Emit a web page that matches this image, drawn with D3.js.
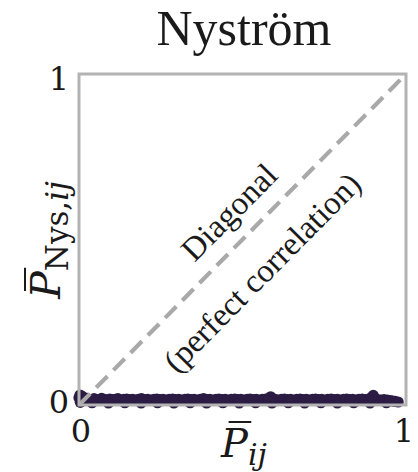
<!DOCTYPE html>
<html><head><meta charset="utf-8">
<script src="https://cdn.jsdelivr.net/npm/d3@7"></script>
<style>
html,body{margin:0;padding:0;background:#fff;}
</style></head>
<body><svg id="c" width="418" height="472"></svg>
<script>
const title = "Nyström";
const xTicks = [0, 1];
const yTicks = [0, 1];
const diagonal = [[0, 0], [1, 1]];
const pointX = [0.000,0.003,0.006,0.010,0.014,0.019,0.025,0.031,0.038,0.046,0.053,0.061,0.069,0.077,0.085,0.094,0.102,0.111,0.119,0.128,0.137,0.146,0.155,0.164,0.173,0.182,0.191,0.201,0.210,0.219,0.229,0.238,0.248,0.257,0.267,0.276,0.286,0.295,0.305,0.314,0.324,0.333,0.343,0.352,0.362,0.371,0.381,0.390,0.400,0.409,0.419,0.428,0.438,0.447,0.457,0.466,0.476,0.485,0.495,0.504,0.514,0.523,0.533,0.542,0.552,0.561,0.571,0.580,0.586,0.590,0.600,0.609,0.619,0.628,0.638,0.647,0.657,0.666,0.676,0.685,0.695,0.704,0.714,0.723,0.733,0.742,0.752,0.761,0.771,0.780,0.790,0.799,0.809,0.818,0.828,0.837,0.847,0.856,0.866,0.875,0.885,0.894,0.900,0.905,0.914,0.924,0.933,0.943,0.952,0.960,0.967,0.976];
const pointY = [0.022,0.030,0.014,0.026,0.018,0.015,0.020,0.017,0.015,0.019,0.016,0.015,0.020,0.017,0.015,0.018,0.016,0.017,0.019,0.015,0.017,0.018,0.016,0.017,0.015,0.017,0.019,0.016,0.017,0.015,0.017,0.018,0.016,0.017,0.015,0.017,0.018,0.016,0.017,0.015,0.017,0.018,0.016,0.017,0.015,0.017,0.019,0.016,0.017,0.015,0.017,0.018,0.016,0.017,0.015,0.017,0.018,0.016,0.017,0.015,0.017,0.018,0.016,0.017,0.015,0.017,0.018,0.017,0.025,0.016,0.017,0.015,0.017,0.018,0.016,0.017,0.015,0.017,0.018,0.016,0.017,0.015,0.017,0.018,0.016,0.017,0.015,0.017,0.018,0.016,0.017,0.015,0.017,0.018,0.016,0.017,0.015,0.017,0.018,0.016,0.017,0.023,0.029,0.016,0.016,0.015,0.016,0.015,0.013,0.012,0.011,0.009];
const pointX2 = [0.004,0.040,0.090,0.140,0.190,0.240,0.290,0.340,0.390,0.440,0.490,0.540,0.590,0.640,0.690,0.740,0.790,0.840,0.890,0.940];
const pointY2 = [0.008,0.007,0.006,0.007,0.006,0.007,0.006,0.007,0.006,0.007,0.006,0.007,0.006,0.007,0.006,0.007,0.006,0.007,0.006,0.007];

const SERIF = "'Liberation Serif', 'Times New Roman', serif";
const MATH = "'DejaVu Serif', serif";
const svg = d3.select("#c");
const L = 79, R = 406, T = 74, B = 405;
const x = d3.scaleLinear().domain([0, 1]).range([L, R]);
const y = d3.scaleLinear().domain([0, 1]).range([B, T]);
const ptColor = "#2c1c44";
const ink = "#1a1a1a";

const pts = pointX.map((v, i) => [v, pointY[i]]).concat(pointX2.map((v, i) => [v, pointY2[i]]));
svg.append("g").selectAll("circle").data(pts).join("circle")
  .attr("cx", d => x(d[0])).attr("cy", d => y(d[1])).attr("r", 5.6)
  .attr("fill", ptColor);

svg.append("path").datum(diagonal)
  .attr("d", d3.line().x(d => x(d[0])).y(d => y(d[1])))
  .attr("stroke", "#a9a9a9").attr("stroke-width", 4.2)
  .attr("stroke-dasharray", "16,8.5").attr("fill", "none");

svg.append("rect").attr("x", L).attr("y", T).attr("width", R - L).attr("height", B - T)
  .attr("fill", "none").attr("stroke", "#b3b3b3").attr("stroke-width", 3);

function txt(sel, fam) { return sel.attr("font-family", fam || SERIF).attr("fill", ink); }

txt(svg.append("g").selectAll("text").data(xTicks).join("text"), MATH)
  .attr("x", d => x(d) + (d === 0 ? 2 : -2)).attr("y", 442)
  .attr("text-anchor", "middle").attr("font-size", 32).text(d => d);
txt(svg.append("g").selectAll("text").data(yTicks).join("text"), MATH)
  .attr("x", 69).attr("y", d => y(d) + (d === 0 ? 8 : 16))
  .attr("text-anchor", "end").attr("font-size", 32).text(d => d);

txt(svg.append("text")).attr("x", 244).attr("y", 45).attr("text-anchor", "middle")
  .attr("font-size", 50).text(title);

// x label
const xl = txt(svg.append("text"), MATH).attr("x", 244).attr("y", 457).attr("text-anchor", "middle").attr("font-size", 40);
xl.append("tspan").attr("font-style", "italic").text("P");
xl.append("tspan").attr("font-style", "italic").attr("font-size", 30).attr("dy", 8).text("ij");
{
  const n = xl.node();
  const s = n.getStartPositionOfChar(0).x, e = n.getEndPositionOfChar(0).x;
  const w = e - s;
  svg.append("line").attr("x1", s + w * 0.28).attr("x2", e + w * 0.12).attr("y1", 422).attr("y2", 422)
    .attr("stroke", ink).attr("stroke-width", 2);
}

// y label
const yg = svg.append("g").attr("transform", "translate(60,240) rotate(-90)");
const yl = txt(yg.append("text"), MATH).attr("x", 0).attr("y", 0).attr("text-anchor", "middle").attr("font-size", 41);
yl.append("tspan").attr("font-style", "italic").text("P");
yl.append("tspan").attr("font-size", 31).attr("dy", 8).text("Nys,");
yl.append("tspan").attr("font-size", 31).attr("font-style", "italic").text("ij");
{
  const n = yl.node();
  const s = n.getStartPositionOfChar(0).x, e = n.getEndPositionOfChar(0).x;
  const w = e - s;
  yg.append("line").attr("x1", s + w * 0.28).attr("x2", e + w * 0.12).attr("y1", -35).attr("y2", -35)
    .attr("stroke", ink).attr("stroke-width", 2);
}

const ang = Math.atan2(y(1) - y(0), x(1) - x(0)) * 180 / Math.PI;
txt(svg.append("text")).attr("transform", `translate(237,220) rotate(${ang})`)
  .attr("text-anchor", "middle").attr("font-size", 33).text("Diagonal");
txt(svg.append("text")).attr("transform", `translate(270,280) rotate(${ang})`)
  .attr("text-anchor", "middle").attr("font-size", 33).text("(perfect correlation)");
</script></body></html>
